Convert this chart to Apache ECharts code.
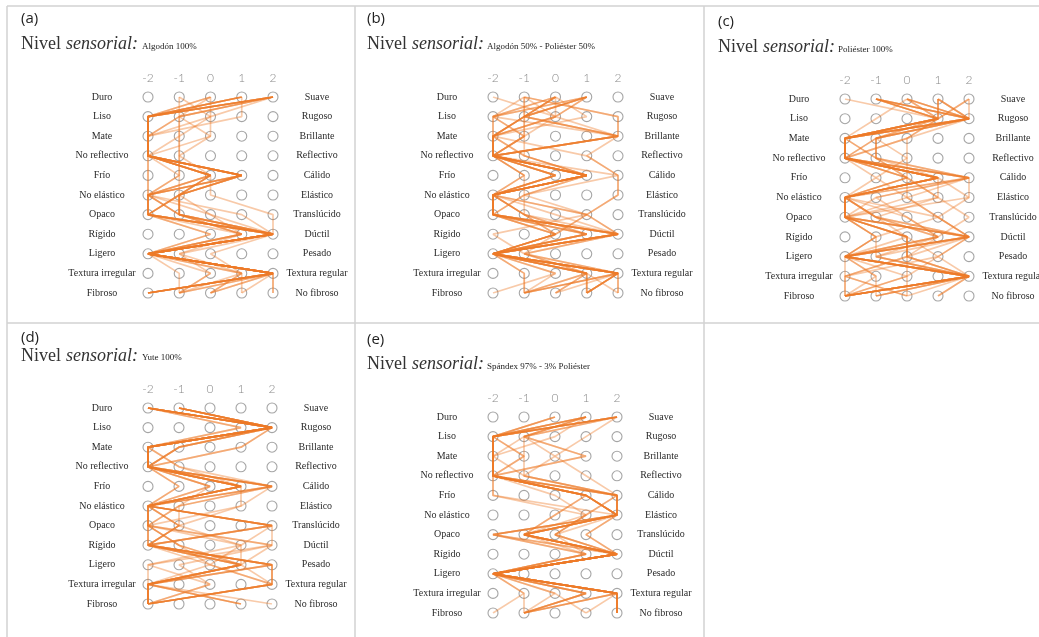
<!DOCTYPE html>
<html>
<head>
<meta charset="utf-8">
<script src="https://cdn.jsdelivr.net/npm/echarts@6/dist/echarts.min.js"></script>
<style>
  html, body { margin: 0; padding: 0; background: #fff; }
  #chart { width: 1039px; height: 637px; }
</style>
</head>
<body>
<div id="chart"></div>
<script>
// pares de adjetivos (izquierda = -2, derecha = 2)
const leftLabels = ['Duro', 'Liso', 'Mate', 'No reflectivo', 'Frío', 'No elástico', 'Opaco', 'Rígido', 'Ligero', 'Textura irregular', 'Fibroso'];
const rightLabels = ['Suave', 'Rugoso', 'Brillante', 'Reflectivo', 'Cálido', 'Elástico', 'Translúcido', 'Dúctil', 'Pesado', 'Textura regular', 'No fibroso'];
const scale = [-2, -1, 0, 1, 2];
const panelIds = ['(a)', '(b)', '(c)', '(d)', '(e)'];
const fabrics = ['Algodón 100%', 'Algodón 50% - Poliéster 50%', 'Poliéster 100%', 'Yute 100%', 'Spándex 97% - 3% Poliéster'];

// respuestas de cada participante, una fila por persona (11 pares)
const respA = [
  [2, -2, -2, -2, 1, -1, -1, 2, -2, 2, -2],
  [2, -2, -2, -2, 1, -2, -2, 2, -2, 2, -2],
  [1, -2, -2, -2, 0, -2, -2, 2, -2, 2, -1],
  [2, -1, -2, -2, 1, -1, -2, 2, -2, 2, -2],
  [1, -2, -2, -2, 0, -1, -1, 1, -2, 1, 0],
  [2, 0, -1, -1, 0, -2, 0, 2, -2, 2, 1],
  [0, -2, -2, -2, 1, -1, -2, 2, -2, -1, -1],
  [-1, 0, 0, -2, 0, 0, 2, 2, -1, 0, -1],
  [1, 1, -2, -2, -1, -2, -1, 1, -2, 2, 2],
  [2, -1, -2, -2, -2, -2, -2, 0, -2, 2, 0],
  [0, -2, -2, -2, 0, -1, -1, 2, 0, 1, -1],
  [2, -2, -2, -2, 1, -2, -2, 2, -2, 2, -2],
  [2, -2, -2, -2, 1, -1, -2, 2, -2, 2, -2],
  [1, -2, -2, -2, 1, -2, -1, 2, -2, 2, -1],
  [2, -1, -1, -2, 0, -1, 0, 1, -2, 2, 0],
  [2, -2, -2, -2, 1, -2, -2, 2, -2, 1, 1],
  [0, 0, -2, -2, 0, -2, -2, 0, -2, 2, -2],
  [1, -2, -2, -2, 1, -1, -1, 2, -2, 2, 2],
  [2, -2, -2, -2, 0, -1, -2, 1, -2, 0, -1],
  [-1, -1, -1, -1, -1, -2, -1, 2, -2, 2, -2],
  [0, -1, 0, -1, -1, -1, -1, 1, -1, 1, 0],
  [1, -2, -2, -2, -2, -2, 1, 2, -2, 2, -2]
];
const respB = [
  [1, -1, -2, -2, 1, -2, -2, 2, -2, 2, 1],
  [1, -2, -2, -2, 1, -2, -2, 2, -2, 1, -1],
  [0, 0, -1, -2, 0, -2, -1, 0, -2, 2, 2],
  [0, -1, -2, -1, 1, -2, -2, 0, -1, 2, -1],
  [-1, -2, 2, -2, 1, -1, -1, 1, -2, 1, 0],
  [-1, -1, -1, -2, -1, -2, -2, 2, -2, -1, -1],
  [-2, 0, -2, 1, 2, 2, 1, 0, -2, 2, 1],
  [1, -1, 2, -2, 0, -2, -1, 2, -2, 0, -2],
  [0, 1, -2, -2, -1, -1, -2, 1, -2, 1, 1],
  [-1, 2, 2, -2, 1, -2, 1, -2, -1, 1, -1],
  [1, -2, -1, -1, 1, -2, -2, 0, -2, 2, 1],
  [0, -1, -2, -2, 0, -2, -2, 2, -2, 1, 0],
  [1, -1, -2, -2, 1, -2, -2, 2, -2, 2, -1],
  [0, -2, -1, -2, 0, -2, -1, 0, -2, 1, 1],
  [1, 0, 2, -2, 1, -2, -2, 1, -2, 2, 0],
  [-1, -1, -2, -2, -1, -2, 0, 2, -1, 1, 1],
  [0, -2, -2, -1, 1, -2, -2, 0, -2, 2, -1],
  [1, -1, -1, -2, 2, -1, -2, 1, -2, 2, 1],
  [-1, 0, -2, -2, 0, -2, 1, 2, -2, 0, -1],
  [0, -1, 2, -2, 1, -2, -2, 2, -2, 1, 2],
  [-1, 2, 2, 1, 2, 2, 1, 0, -2, 2, 1],
  [1, 0, -2, -2, 1, -1, 1, 2, -1, 2, 2],
  [0, -1, 2, -2, 1, -2, -1, 1, -2, -1, -1]
];
const respC = [
  [-1, 1, -2, -2, 1, -2, -2, 0, 0, 0, 0],
  [-2, 1, -2, -2, 2, -2, -2, 0, 0, 2, -2],
  [-1, 2, -2, -2, 1, -2, -1, 2, -2, 2, -2],
  [0, 1, -1, -1, 0, -2, -2, 2, -2, -2, -2],
  [1, 2, -2, -2, 2, -1, 0, 1, -1, 2, -1],
  [0, 2, -1, -1, 1, -2, -2, -1, -2, -1, -2],
  [1, 1, 0, 0, -1, 0, 1, 2, 0, 2, 1],
  [-1, 2, -2, -2, 0, 1, -1, 0, 1, -2, 0],
  [2, 1, -2, -2, 1, -2, -2, -1, -2, 0, -2],
  [0, -1, -2, -2, 2, 2, -2, 2, -1, 2, -1],
  [-1, 1, -1, -2, 0, -2, -1, 1, -2, 2, -2],
  [1, 2, -2, -2, 1, -2, -2, 0, 0, -2, -2],
  [-1, 1, -2, -2, 1, -2, -2, 0, 0, 2, 0],
  [0, 2, -2, -1, 2, -1, -2, 2, -2, 2, -2],
  [1, 1, -2, -2, 1, -2, 0, 1, -2, -1, -1],
  [-1, 2, 0, -2, 0, 0, -2, -1, -1, 2, -2],
  [2, 2, -1, -1, 2, -2, -1, 2, 1, 0, -2],
  [0, 1, -2, -2, 1, 1, -2, 0, -2, 2, 1],
  [-1, 1, -2, -2, -1, -2, -1, 1, 0, -2, 0],
  [1, 2, -1, 0, 0, -2, 1, 2, -2, 2, -2],
  [0, 2, -1, -2, 1, 2, 1, 2, -2, 2, -1],
  [1, 1, -2, -1, 0, 1, 2, 1, -2, 2, -2],
  [-1, 2, -2, -2, 2, 0, 1, -1, -2, 2, -2],
  [2, 1, 0, -2, 1, -2, -2, 2, 1, 2, -2]
];
const respD = [
  [-2, 2, -2, -2, 1, -2, 2, -2, 1, -2, -2],
  [-1, 2, -2, -2, 2, -2, -2, -1, 1, -2, -2],
  [-2, 2, -2, -2, 1, -2, -1, -2, 2, 2, -2],
  [-1, 2, -1, -2, 0, -2, -2, 2, -2, -2, -2],
  [-2, 2, 1, -2, 2, -1, -2, -2, 0, 2, -2],
  [-1, 2, -2, -1, 1, -2, 2, -2, 1, -2, 1],
  [-2, 2, -2, -2, -1, -2, -1, 1, -2, 0, -2],
  [-2, 1, -2, -2, 2, 1, -2, -2, 2, 2, -2],
  [-1, 2, -1, -2, 0, -2, -2, -1, 0, -2, -2],
  [-2, 2, -2, -2, 1, -2, 2, 2, 1, -2, -2],
  [-2, 2, -2, -2, 1, -2, -1, -2, 1, -2, -2],
  [-1, 2, -2, -2, 2, -2, 2, -2, 2, 2, -2],
  [-2, 2, -2, -2, 0, -1, -2, -1, 1, -2, 1],
  [-1, 2, 1, -2, 1, -2, -2, -2, 2, -2, -2],
  [-2, 2, -2, -1, 2, -2, 2, 1, 0, 2, -2],
  [-2, 2, -1, -2, 1, 1, -1, -2, 1, -2, 2],
  [-1, 2, -2, -2, -1, -2, -2, 2, -1, 0, -2],
  [-2, 1, -2, -2, 1, -2, 2, -2, 2, -2, -2],
  [-2, 2, -2, -2, 1, -2, -2, 1, 1, 2, -2],
  [-1, 2, -1, -2, 2, -1, -1, -2, 2, -2, 1]
];
const respE = [
  [2, -2, -2, -2, 1, 2, -1, 2, -2, 2, 2],
  [2, -2, -2, -2, 2, 2, -1, 2, -2, 2, 2],
  [1, -2, -2, -2, 1, 2, -2, 2, -2, 2, -1],
  [1, -1, -1, -2, -2, 2, -1, 1, -2, 1, -1],
  [0, -2, -2, -1, 2, 1, 0, 2, -2, 2, 2],
  [2, -1, 1, -2, 1, 2, 1, 2, -2, 0, 1],
  [1, 0, -2, -2, 1, 0, -1, 2, -2, 2, -1],
  [2, 1, 0, 1, 2, 2, -2, 1, -2, -1, -2],
  [1, -2, -2, -2, 0, 1, -1, 2, -2, 2, 2],
  [2, -2, -1, -2, 1, 2, 0, 2, -2, 1, -1],
  [2, -2, -2, -2, 1, 2, -1, 2, -2, 2, 2],
  [1, -2, -2, -2, 2, 2, -2, 2, -2, 2, -1],
  [2, -2, -2, -2, 1, 2, -1, 2, -2, 2, 2],
  [1, -1, -2, -2, -2, 1, 0, 1, -2, 1, -1],
  [2, -2, -1, -1, 2, 2, -1, 2, -2, 2, 1],
  [0, -2, -2, -2, 1, 2, -2, 1, -2, 0, -1],
  [2, -1, 1, -2, 1, 0, -1, 2, -2, 2, 2],
  [1, -2, -2, -2, 2, 2, 1, 2, -2, -1, -1],
  [1, -1, 0, -1, 2, 2, -1, 2, -2, 1, -1],
  [0, -2, -2, -2, 2, 1, 0, 2, -2, 2, 2]
];
const responses = [respA, respB, respC, respD, respE];

// posiciones de cada panel (px)
const layout = [
  { x: 0,   gl: 148, gt: 97,  gw: 125, gh: 196, tTop: 11,  nTop: 35,  fTop: 42,  fLeft: 142 },
  { x: 346, gl: 493, gt: 97,  gw: 125, gh: 196, tTop: 11,  nTop: 35,  fTop: 42,  fLeft: 487 },
  { x: 697, gl: 845, gt: 99,  gw: 124, gh: 197, tTop: 14,  nTop: 38,  fTop: 45,  fLeft: 838 },
  { x: 0,   gl: 148, gt: 408, gw: 124, gh: 196, tTop: 330, nTop: 347, fTop: 353, fLeft: 142 },
  { x: 346, gl: 493, gt: 417, gw: 124, gh: 196, tTop: 332, nTop: 355, fTop: 362, fLeft: 487 }
];

const chart = echarts.init(document.getElementById('chart'));
const grid = [], xAxis = [], yAxis = [], series = [], title = [];
const labelFont = 'Liberation Serif';

layout.forEach((p, i) => {
  grid.push({ left: p.gl, top: p.gt, width: p.gw, height: p.gh, containLabel: false, outerBoundsMode: 'none' });
  xAxis.push({
    gridIndex: i, type: 'value', min: -2, max: 2, interval: 1, position: 'top',
    axisLine: { show: false }, axisTick: { show: false }, splitLine: { show: false },
    axisLabel: { margin: 13, color: '#8a8a8a', fontSize: 12, fontFamily: 'Lato', fontWeight: 300 }
  });
  yAxis.push({
    gridIndex: i, type: 'category', data: leftLabels, inverse: true, boundaryGap: false,
    axisLine: { show: false }, axisTick: { show: false }, splitLine: { show: false },
    axisLabel: { interval: 0, align: 'center', margin: 46, color: '#2b2b2b', fontSize: 10, fontFamily: labelFont }
  });
  yAxis.push({
    gridIndex: i, type: 'category', data: rightLabels, inverse: true, boundaryGap: false, position: 'right',
    axisLine: { show: false }, axisTick: { show: false }, splitLine: { show: false },
    axisLabel: { interval: 0, align: 'center', margin: 44, color: '#2b2b2b', fontSize: 10, fontFamily: labelFont }
  });

  // circulos de la escala
  const dots = [];
  leftLabels.forEach((_, r) => scale.forEach(v => dots.push([v, r])));
  series.push({
    type: 'scatter', xAxisIndex: i, yAxisIndex: 2 * i, data: dots, symbol: 'circle', symbolSize: 10,
    itemStyle: { color: '#fff', borderColor: '#8e8e8e', borderWidth: 1.1 }, silent: true, z: 2
  });

  responses[i].forEach(resp => {
    series.push({
      type: 'line', xAxisIndex: i, yAxisIndex: 2 * i,
      data: resp.map((v, r) => [v, r]),
      symbol: 'none', silent: true, z: 3,
      lineStyle: { color: '#ee7a28', width: 1.7, opacity: 0.4 }
    });
  });

  title.push({
    text: panelIds[i], left: p.x + 21, top: p.tTop, padding: 0,
    textStyle: { fontFamily: 'Open Sans', fontSize: 15, fontWeight: 'normal', color: '#1e1e1e' }
  });
  title.push({
    text: '{n|Nivel} {s|sensorial:}', left: p.x + 21, top: p.nTop, padding: 0,
    textStyle: {
      fontWeight: 'normal',
      rich: {
        n: { fontFamily: 'Liberation Serif', fontSize: 18, fontWeight: 'normal', color: '#333' },
        s: { fontFamily: 'Liberation Serif', fontSize: 18, fontWeight: 'normal', fontStyle: 'italic', color: '#333' }
      }
    }
  });
  title.push({
    text: fabrics[i], left: p.fLeft, top: p.fTop, padding: 0,
    textStyle: { fontFamily: labelFont, fontSize: 9, fontWeight: 'normal', color: '#222' }
  });
});

// bordes de los paneles
const border = { stroke: '#d2d2d2', lineWidth: 1.5 };
const graphic = [
  { type: 'line', shape: { x1: 7, y1: 6, x2: 1039, y2: 6 }, style: border },
  { type: 'line', shape: { x1: 7, y1: 6, x2: 7, y2: 637 }, style: border },
  { type: 'line', shape: { x1: 355, y1: 6, x2: 355, y2: 637 }, style: border },
  { type: 'line', shape: { x1: 704, y1: 6, x2: 704, y2: 637 }, style: border },
  { type: 'line', shape: { x1: 7, y1: 323, x2: 1039, y2: 323 }, style: border }
];

chart.setOption({
  animation: false,
  backgroundColor: '#fff',
  title: title,
  grid: grid,
  xAxis: xAxis,
  yAxis: yAxis,
  series: series,
  graphic: graphic
});
</script>
</body>
</html>
